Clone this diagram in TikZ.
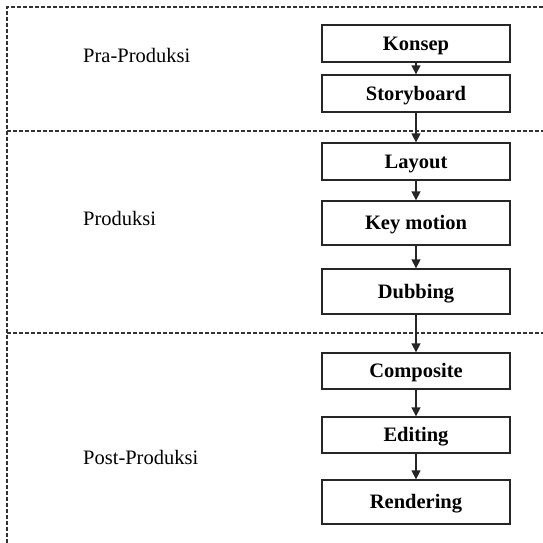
\documentclass[tikz,border=0pt]{standalone}
\usepackage{fontspec}
\setmainfont{Liberation Serif}
\usetikzlibrary{arrows.meta}
\begin{document}
\begin{tikzpicture}[x=1pt,y=-1pt,
  stagebox/.style={draw=black!85, line width=1.3pt, fill=white,
    minimum width=188pt, inner sep=0pt, text height=13.5pt, text depth=0pt,
    font=\fontsize{20.5}{24}\selectfont\bfseries},
  phase/.style={anchor=base west, inner sep=0pt, font=\fontsize{20.5}{24}\selectfont},
  divider/.style={draw=black!80, line width=1.1pt, dash pattern=on 4pt off 2pt},
  flow/.style={draw=black!85, line width=1.3pt, -{Triangle[length=9pt,width=9pt]}}]
\useasboundingbox (0,0) rectangle (543,543);

% phase separators
\draw[divider] (7,543) -- (7,7) -- (543,7);
\draw[divider] (7,131) -- (543,131);
\draw[divider] (7,333) -- (543,333);

% phase labels
\node[phase] (pra)  at (83,63)  {Pra-Produksi};
\node[phase] (prod) at (83,225) {Produksi};
\node[phase] (post) at (83,464) {Post-Produksi};

% process steps
\node[stagebox, minimum height=37pt] (konsep)  at (416,43.5)  {Konsep};
\node[stagebox, minimum height=37pt] (story)   at (416,93.5)  {Storyboard};
\node[stagebox, minimum height=37pt] (layout)  at (416,161.5) {Layout};
\node[stagebox, minimum height=44pt] (key)     at (416,223)   {Key motion};
\node[stagebox, minimum height=45pt] (dub)     at (416,291.5) {Dubbing};
\node[stagebox, minimum height=36pt] (comp)    at (416,371)   {Composite};
\node[stagebox, minimum height=36pt] (edit)    at (416,435)   {Editing};
\node[stagebox, minimum height=44pt] (render)  at (416,502)   {Rendering};

% connectors
\draw[flow] (konsep.south) -- (story.north);
\draw[flow] (story.south)  -- (layout.north);
\draw[flow] (layout.south) -- (key.north);
\draw[flow] (key.south)    -- (dub.north);
\draw[flow] (dub.south)    -- (comp.north);
\draw[flow] (comp.south)   -- (edit.north);
\draw[flow] (edit.south)   -- (render.north);
\end{tikzpicture}
\end{document}
